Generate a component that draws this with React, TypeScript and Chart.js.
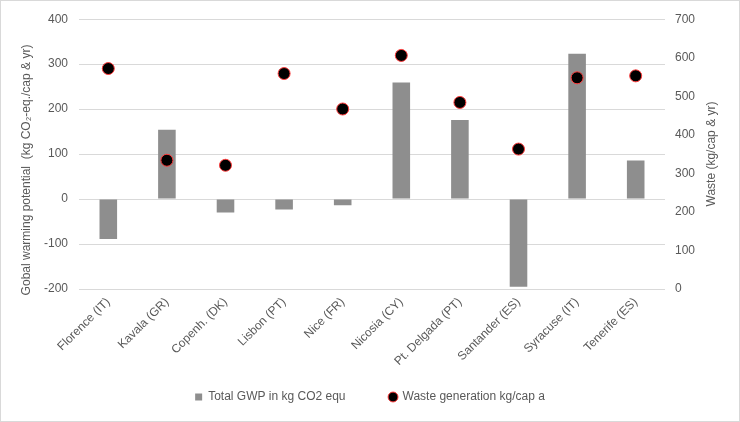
import React, { useEffect, useRef } from "react";
import { Chart, registerables } from "chart.js";

Chart.register(...registerables);

const categories = [
  "Florence (IT)",
  "Kavala (GR)",
  "Copenh. (DK)",
  "Lisbon (PT)",
  "Nice (FR)",
  "Nicosia (CY)",
  "Pt. Delgada (PT)",
  "Santander (ES)",
  "Syracuse (IT)",
  "Tenerife (ES)",
];
const gwpValues = [-89, 154, -30, -23, -14, 259, 176, -195, 323, 86];
const wasteValues = [572, 334, 321, 559, 467, 606, 484, 363, 548, 553];

const gwpLabel = "Total GWP in kg CO2 equ";
const wasteLabel = "Waste generation kg/cap a";
const leftTitle = "Gobal warming potential  (kg CO\u2082-eq./cap & yr)";
const rightTitle = "Waste (kg/cap & yr)";

const leftTicks = { min: -200, max: 400, step: 100 };
const rightTicks = { min: 0, max: 700, step: 100 };

const FONT = "'Liberation Sans', Arial, sans-serif";
const TEXT = "#595959";

const titlesPlugin = {
  id: "axisTitles",
  afterDraw(chart: any) {
    const ctx = chart.ctx;
    ctx.save();
    ctx.font = `12px ${FONT}`;
    ctx.fillStyle = TEXT;
    ctx.textAlign = "center";
    ctx.textBaseline = "middle";
    ctx.translate(26, 169);
    ctx.rotate(-Math.PI / 2);
    ctx.fillText(leftTitle, 0, 0);
    ctx.restore();

    ctx.save();
    ctx.font = `12px ${FONT}`;
    ctx.fillStyle = TEXT;
    ctx.textAlign = "center";
    ctx.textBaseline = "middle";
    ctx.translate(711, 153);
    ctx.rotate(-Math.PI / 2);
    ctx.fillText(rightTitle, 0, 0);
    ctx.restore();
  },
};

export default function App() {
  const ref = useRef<HTMLCanvasElement | null>(null);

  useEffect(() => {
    if (!ref.current) return;
    const chart = new Chart(ref.current, {
      data: {
        labels: categories,
        datasets: [
          {
            type: "bar",
            label: gwpLabel,
            data: gwpValues,
            backgroundColor: "#8e8e8e",
            borderWidth: 0,
            yAxisID: "y",
            order: 1,
            pointStyle: "rect",
            barPercentage: 0.3,
            categoryPercentage: 1,
          } as any,
          {
            type: "line",
            label: wasteLabel,
            data: wasteValues,
            showLine: false,
            backgroundColor: "#000000",
            borderColor: "#ff2020",
            borderWidth: 1,
            pointRadius: 6,
            pointBackgroundColor: "#000000",
            pointBorderColor: "#ff3b3b",
            pointBorderWidth: 1,
            pointStyle: "circle",
            yAxisID: "y1",
            order: 0,
          } as any,
        ],
      },
      options: {
        responsive: false,
        animation: false,
        devicePixelRatio: 1,
        layout: { padding: { left: 0, right: 0, top: 18, bottom: 8 } },
        font: { family: FONT, size: 12 },
        color: TEXT,
        plugins: {
          legend: {
            position: "bottom",
            labels: {
              usePointStyle: true,
              boxWidth: 7,
              boxHeight: 7,
              padding: 44,
              color: TEXT,
              font: { family: FONT, size: 12 },
              sort: (a: any, b: any) => a.datasetIndex - b.datasetIndex,
            },
          },
          tooltip: { enabled: false },
        },
        scales: {
          x: {
            grid: { display: false, drawTicks: false },
            border: { display: false },
            ticks: {
              minRotation: 45,
              maxRotation: 45,
              autoSkip: false,
              padding: 6,
              color: TEXT,
              font: { family: FONT, size: 12 },
            },
            afterFit: (s: any) => {
              s.height = 58;
              s._computeLabelArea = () => undefined;
            },
          },
          y: {
            position: "left",
            min: leftTicks.min,
            max: leftTicks.max,
            ticks: {
              stepSize: leftTicks.step,
              padding: 11,
              color: TEXT,
              font: { family: FONT, size: 12 },
            },
            grid: { color: "#d9d9d9", lineWidth: 1, drawTicks: false },
            border: { display: false },
            title: { display: false },
            afterFit: (s: any) => {
              s.width = 78;
            },
          },
          y1: {
            position: "right",
            min: rightTicks.min,
            max: rightTicks.max,
            ticks: {
              stepSize: rightTicks.step,
              padding: 10,
              color: TEXT,
              font: { family: FONT, size: 12 },
            },
            grid: { display: false, drawTicks: false },
            border: { display: false },
            title: { display: false },
            afterFit: (s: any) => {
              s.width = 74;
            },
          },
        },
      } as any,
      plugins: [titlesPlugin],
    });
    return () => chart.destroy();
  }, []);

  return (
    <div
      style={{
        position: "fixed",
        left: 0,
        top: 0,
        width: 740,
        height: 422,
        border: "1px solid #d9d9d9",
        boxSizing: "border-box",
        background: "#ffffff",
      }}
    >
      <canvas ref={ref} width={738} height={420} style={{ display: "block", width: 738, height: 420 }} />
    </div>
  );
}
